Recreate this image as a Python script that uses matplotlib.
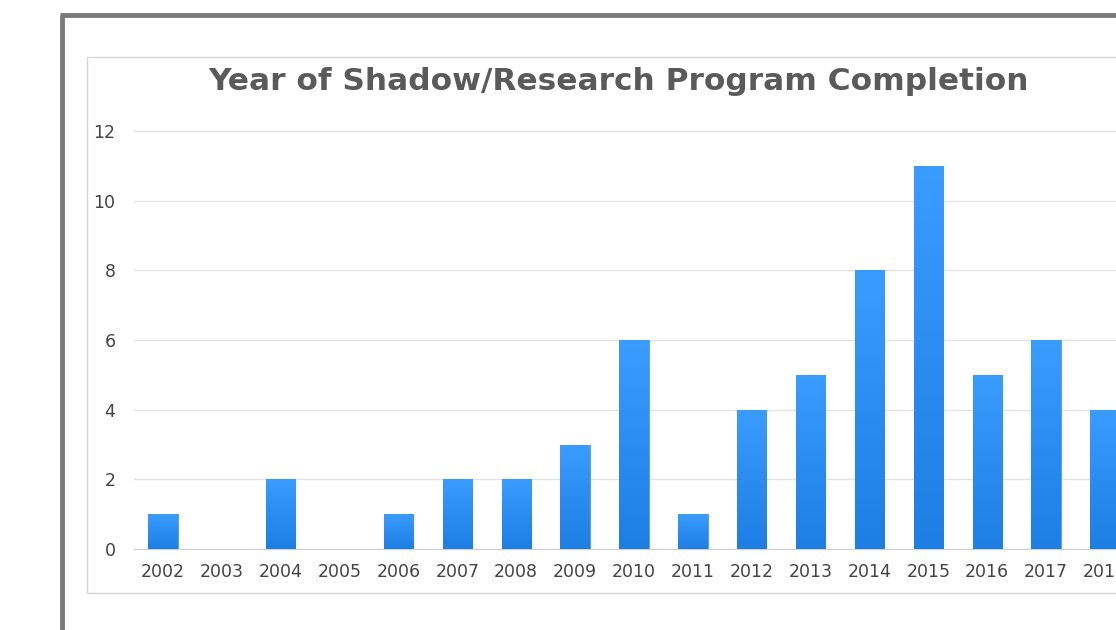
import numpy as np
import matplotlib.pyplot as plt
from matplotlib.lines import Line2D
from matplotlib.patches import Rectangle
from matplotlib.colors import LinearSegmentedColormap

years = ["2002", "2003", "2004", "2005", "2006", "2007", "2008", "2009", "2010",
         "2011", "2012", "2013", "2014", "2015", "2016", "2017", "2018"]
counts = [1, 0, 2, 0, 1, 2, 2, 3, 6, 1, 4, 5, 8, 11, 5, 6, 4]
yticks = [0, 2, 4, 6, 8, 10, 12]

W, H = 1116, 630
fig = plt.figure(figsize=(W / 100, H / 100), dpi=100)
fig.patch.set_facecolor("white")

# screenshot frame (left + top edges)
fig.add_artist(Line2D([62 / W, 62 / W], [0, 1 - 15 / H], transform=fig.transFigure,
                      color="#7a7a7a", lw=3.5, solid_capstyle="butt"))
fig.add_artist(Line2D([60 / W, 1], [1 - 15 / H, 1 - 15 / H], transform=fig.transFigure,
                      color="#7a7a7a", lw=3.5, solid_capstyle="butt"))

# chart box (outline only, behind the axes content)
fig.add_artist(Rectangle((87 / W, 1 - 593 / H), 1.2, (593 - 57) / H, transform=fig.transFigure,
                         facecolor="none", edgecolor="#d6d6d6", lw=1, zorder=-1))

ax = fig.add_axes([133.5 / W, 81 / H, 1001 / W, 418 / H])
ax.set_facecolor("none")
x = np.arange(len(years))
bars = ax.bar(x, counts, width=0.5, color="#2a8cf2", edgecolor="#4a9ee8", lw=0.6, zorder=3)

cmap = LinearSegmentedColormap.from_list("blu", ["#1d7ee3", "#3a9cff"])
grad = np.linspace(0, 1, 100).reshape(-1, 1)
for b in bars:
    if b.get_height() <= 0:
        continue
    bx, by = b.get_x(), b.get_y()
    im = ax.imshow(grad, cmap=cmap, origin="lower", aspect="auto", zorder=3.5,
                   extent=[bx, bx + b.get_width(), by, by + b.get_height()])
    im.set_clip_path(b)

ax.set_xlim(-0.5, len(years) - 0.5)
ax.set_ylim(0, 12)
ax.set_yticks(yticks)
ax.set_yticklabels([str(v) for v in yticks])
ax.set_xticks(x)
ax.set_xticklabels(years)
ax.yaxis.grid(True, color="#e2e2e2", lw=1)
ax.set_axisbelow(True)
for s in ["top", "right", "left"]:
    ax.spines[s].set_visible(False)
ax.spines["bottom"].set_color("#d0d0d0")
ax.tick_params(length=0, labelsize=12.5, labelcolor="#444444")
ax.tick_params(axis="y", pad=13)
ax.tick_params(axis="x", pad=10)

fig.text(619 / W, 1 - 82 / H, "Year of Shadow/Research Program Completion",
         ha="center", va="center", fontsize=22.5, fontweight="bold", color="#5a5a5a")

fig.savefig("out.png", dpi=100)
